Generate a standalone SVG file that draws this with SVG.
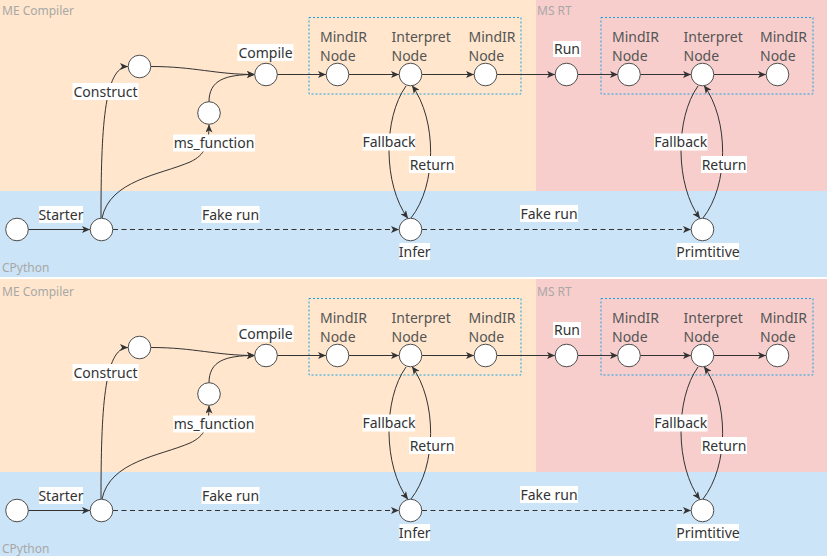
<svg xmlns="http://www.w3.org/2000/svg" width="827" height="556" viewBox="0 0 827 556">
<style>
.bg-me{fill:#ffe6cc}
.bg-rt{fill:#f8cecc}
.bg-py{fill:#cce4f7}
.region{font-family:"Noto Sans","DejaVu Sans",sans-serif;font-size:12px;fill:#a8a8a8}
.node circle{fill:#fff;stroke:#4d4d4d;stroke-width:1}
.nl{font-family:"Noto Sans","DejaVu Sans",sans-serif;font-size:14px;fill:#555}
.lbl text{font-family:"Noto Sans","DejaVu Sans",sans-serif;font-size:14px;fill:#333;text-anchor:middle}
.lbl rect{fill:#fff}
.edge{fill:none;stroke:#333;stroke-width:1;marker-end:url(#arr)}
.dash{stroke-dasharray:5 3.5}
.box{fill:none;stroke:#1ba1e2;stroke-width:1;stroke-dasharray:2 2}
</style>
<defs>
<marker id="arr" markerUnits="userSpaceOnUse" markerWidth="8" markerHeight="7" viewBox="0 0 8 7" refX="8" refY="3.5" orient="auto">
<path d="M0,0 L8,3.5 L0,7 L2,3.5 Z" fill="#333"/>
</marker>
</defs>
<rect x="0" y="0" width="827" height="556" fill="#fff"/>

<g id="top">
<g id="regions-top">
<rect class="bg-me" x="0" y="-2" width="536" height="193"/>
<rect class="bg-rt" x="536" y="-2" width="291" height="193"/>
<rect class="bg-py" x="0" y="191" width="827" height="86"/>
<text class="region" x="2" y="14.5">ME Compiler</text>
<text class="region" x="537" y="14.5">MS RT</text>
<text class="region" x="2" y="272">CPython</text>
<rect class="box" x="309" y="17.5" width="212" height="76.5"/>
<rect class="box" x="601" y="17.5" width="212" height="76.5"/>
</g>
<g id="edges-top">
<path class="edge" d="M28,229.5 L90,229.5"/>
<path class="edge" d="M101,218 C101,130 104,66.5 128,66.5"/>
<path class="edge" d="M102,218 C110,180 160,175 190,162 C205,155 209,145 209,124.5"/>
<path class="edge" d="M151,66.5 C195,66.5 215,74.5 255,74.5"/>
<path class="edge" d="M209,102 C209,80 225,74.5 255,74.5"/>
<path class="edge" d="M277,74.5 L326,74.5"/>
<path class="edge" d="M349,74.5 L399,74.5"/>
<path class="edge" d="M422,74.5 L474,74.5"/>
<path class="edge" d="M497,74.5 L555,74.5"/>
<path class="edge" d="M578,74.5 L618,74.5"/>
<path class="edge" d="M640,74.5 L691,74.5"/>
<path class="edge" d="M714,74.5 L766,74.5"/>
<path class="edge dash" d="M113,229.5 L399,229.5"/>
<path class="edge dash" d="M422,229.5 L691,229.5"/>
<path class="edge" d="M406,86 C383,118 383,185 408,218.5"/>
<path class="edge" d="M411,218 C437,185 437,120 412,85.5"/>
<path class="edge" d="M698,86 C675,118 675,185 700,218.5"/>
<path class="edge" d="M703,218 C729,185 729,120 704,85.5"/>
</g>
<g id="t-start" class="node"><circle cx="17" cy="229.5" r="11.3"/></g>
<g id="t-py" class="node"><circle cx="101.5" cy="229.5" r="11.3"/></g>
<g id="t-construct" class="node"><circle cx="139.5" cy="66.5" r="11.3"/></g>
<g id="t-msfunc" class="node"><circle cx="209" cy="113" r="11.3"/></g>
<g id="t-compile" class="node"><circle cx="266" cy="74.5" r="11.3"/></g>
<g id="t-mindir1" class="node"><circle cx="337.5" cy="74.5" r="11.3"/><text class="nl"><tspan x="320" y="42">MindIR</tspan><tspan x="320" y="61.2">Node</tspan></text></g>
<g id="t-interp1" class="node"><circle cx="410.5" cy="74.5" r="11.3"/><text class="nl"><tspan x="391.5" y="42">Interpret</tspan><tspan x="391.5" y="61.2">Node</tspan></text></g>
<g id="t-mindir2" class="node"><circle cx="485.5" cy="74.5" r="11.3"/><text class="nl"><tspan x="468.5" y="42">MindIR</tspan><tspan x="468.5" y="61.2">Node</tspan></text></g>
<g id="t-run" class="node"><circle cx="566.5" cy="74.5" r="11.3"/></g>
<g id="t-mindir3" class="node"><circle cx="629" cy="74.5" r="11.3"/><text class="nl"><tspan x="612" y="42">MindIR</tspan><tspan x="612" y="61.2">Node</tspan></text></g>
<g id="t-interp2" class="node"><circle cx="702.5" cy="74.5" r="11.3"/><text class="nl"><tspan x="683.5" y="42">Interpret</tspan><tspan x="683.5" y="61.2">Node</tspan></text></g>
<g id="t-mindir4" class="node"><circle cx="777.5" cy="74.5" r="11.3"/><text class="nl"><tspan x="760" y="42">MindIR</tspan><tspan x="760" y="61.2">Node</tspan></text></g>
<g id="t-infer" class="node"><circle cx="410.5" cy="229.5" r="11.3"/></g>
<g id="t-prim" class="node"><circle cx="702.5" cy="229.5" r="11.3"/></g>
<g id="labels-top" class="lbl">
<rect x="237.5" y="44" width="56" height="17"/><text x="265.5" y="58">Compile</text>
<rect x="553" y="41" width="28" height="16"/><text x="567" y="54">Run</text>
<rect x="72.5" y="83" width="66" height="17"/><text x="105.5" y="96.5">Construct</text>
<rect x="173" y="134.5" width="82" height="17"/><text x="214" y="148">ms_function</text>
<rect x="39" y="206" width="44" height="17"/><text x="61" y="219.5">Starter</text>
<rect x="201.5" y="206" width="58" height="17"/><text x="230.5" y="219.5">Fake run</text>
<rect x="520" y="205" width="58" height="17"/><text x="549" y="218.5">Fake run</text>
<rect x="362.5" y="133.5" width="52.5" height="17"/><text x="389" y="147">Fallback</text>
<rect x="409" y="156" width="46" height="17"/><text x="432" y="169.5">Return</text>
<rect x="399.5" y="243" width="30.5" height="17"/><text x="414.7" y="256.5">Infer</text>
<rect x="654" y="133.5" width="53.5" height="17"/><text x="680.7" y="147">Fallback</text>
<rect x="701" y="156" width="46" height="17"/><text x="724" y="169.5">Return</text>
<rect x="676.5" y="243" width="62.5" height="17"/><text x="708" y="256.5">Primtitive</text>
</g>
</g>

<g id="bottom" transform="translate(0,281)">
<g id="regions-bottom">
<rect class="bg-me" x="0" y="-2" width="536" height="193"/>
<rect class="bg-rt" x="536" y="-2" width="291" height="193"/>
<rect class="bg-py" x="0" y="191" width="827" height="86"/>
<text class="region" x="2" y="14.5">ME Compiler</text>
<text class="region" x="537" y="14.5">MS RT</text>
<text class="region" x="2" y="272">CPython</text>
<rect class="box" x="309" y="17.5" width="212" height="76.5"/>
<rect class="box" x="601" y="17.5" width="212" height="76.5"/>
</g>
<g id="edges-bottom">
<path class="edge" d="M28,229.5 L90,229.5"/>
<path class="edge" d="M101,218 C101,130 104,66.5 128,66.5"/>
<path class="edge" d="M102,218 C110,180 160,175 190,162 C205,155 209,145 209,124.5"/>
<path class="edge" d="M151,66.5 C195,66.5 215,74.5 255,74.5"/>
<path class="edge" d="M209,102 C209,80 225,74.5 255,74.5"/>
<path class="edge" d="M277,74.5 L326,74.5"/>
<path class="edge" d="M349,74.5 L399,74.5"/>
<path class="edge" d="M422,74.5 L474,74.5"/>
<path class="edge" d="M497,74.5 L555,74.5"/>
<path class="edge" d="M578,74.5 L618,74.5"/>
<path class="edge" d="M640,74.5 L691,74.5"/>
<path class="edge" d="M714,74.5 L766,74.5"/>
<path class="edge dash" d="M113,229.5 L399,229.5"/>
<path class="edge dash" d="M422,229.5 L691,229.5"/>
<path class="edge" d="M406,86 C383,118 383,185 408,218.5"/>
<path class="edge" d="M411,218 C437,185 437,120 412,85.5"/>
<path class="edge" d="M698,86 C675,118 675,185 700,218.5"/>
<path class="edge" d="M703,218 C729,185 729,120 704,85.5"/>
</g>
<g id="b-start" class="node"><circle cx="17" cy="229.5" r="11.3"/></g>
<g id="b-py" class="node"><circle cx="101.5" cy="229.5" r="11.3"/></g>
<g id="b-construct" class="node"><circle cx="139.5" cy="66.5" r="11.3"/></g>
<g id="b-msfunc" class="node"><circle cx="209" cy="113" r="11.3"/></g>
<g id="b-compile" class="node"><circle cx="266" cy="74.5" r="11.3"/></g>
<g id="b-mindir1" class="node"><circle cx="337.5" cy="74.5" r="11.3"/><text class="nl"><tspan x="320" y="42">MindIR</tspan><tspan x="320" y="61.2">Node</tspan></text></g>
<g id="b-interp1" class="node"><circle cx="410.5" cy="74.5" r="11.3"/><text class="nl"><tspan x="391.5" y="42">Interpret</tspan><tspan x="391.5" y="61.2">Node</tspan></text></g>
<g id="b-mindir2" class="node"><circle cx="485.5" cy="74.5" r="11.3"/><text class="nl"><tspan x="468.5" y="42">MindIR</tspan><tspan x="468.5" y="61.2">Node</tspan></text></g>
<g id="b-run" class="node"><circle cx="566.5" cy="74.5" r="11.3"/></g>
<g id="b-mindir3" class="node"><circle cx="629" cy="74.5" r="11.3"/><text class="nl"><tspan x="612" y="42">MindIR</tspan><tspan x="612" y="61.2">Node</tspan></text></g>
<g id="b-interp2" class="node"><circle cx="702.5" cy="74.5" r="11.3"/><text class="nl"><tspan x="683.5" y="42">Interpret</tspan><tspan x="683.5" y="61.2">Node</tspan></text></g>
<g id="b-mindir4" class="node"><circle cx="777.5" cy="74.5" r="11.3"/><text class="nl"><tspan x="760" y="42">MindIR</tspan><tspan x="760" y="61.2">Node</tspan></text></g>
<g id="b-infer" class="node"><circle cx="410.5" cy="229.5" r="11.3"/></g>
<g id="b-prim" class="node"><circle cx="702.5" cy="229.5" r="11.3"/></g>
<g id="labels-bottom" class="lbl">
<rect x="237.5" y="44" width="56" height="17"/><text x="265.5" y="58">Compile</text>
<rect x="553" y="41" width="28" height="16"/><text x="567" y="54">Run</text>
<rect x="72.5" y="83" width="66" height="17"/><text x="105.5" y="96.5">Construct</text>
<rect x="173" y="134.5" width="82" height="17"/><text x="214" y="148">ms_function</text>
<rect x="39" y="206" width="44" height="17"/><text x="61" y="219.5">Starter</text>
<rect x="201.5" y="206" width="58" height="17"/><text x="230.5" y="219.5">Fake run</text>
<rect x="520" y="205" width="58" height="17"/><text x="549" y="218.5">Fake run</text>
<rect x="362.5" y="133.5" width="52.5" height="17"/><text x="389" y="147">Fallback</text>
<rect x="409" y="156" width="46" height="17"/><text x="432" y="169.5">Return</text>
<rect x="399.5" y="243" width="30.5" height="17"/><text x="414.7" y="256.5">Infer</text>
<rect x="654" y="133.5" width="53.5" height="17"/><text x="680.7" y="147">Fallback</text>
<rect x="701" y="156" width="46" height="17"/><text x="724" y="169.5">Return</text>
<rect x="676.5" y="243" width="62.5" height="17"/><text x="708" y="256.5">Primtitive</text>
</g>
</g>
</svg>
